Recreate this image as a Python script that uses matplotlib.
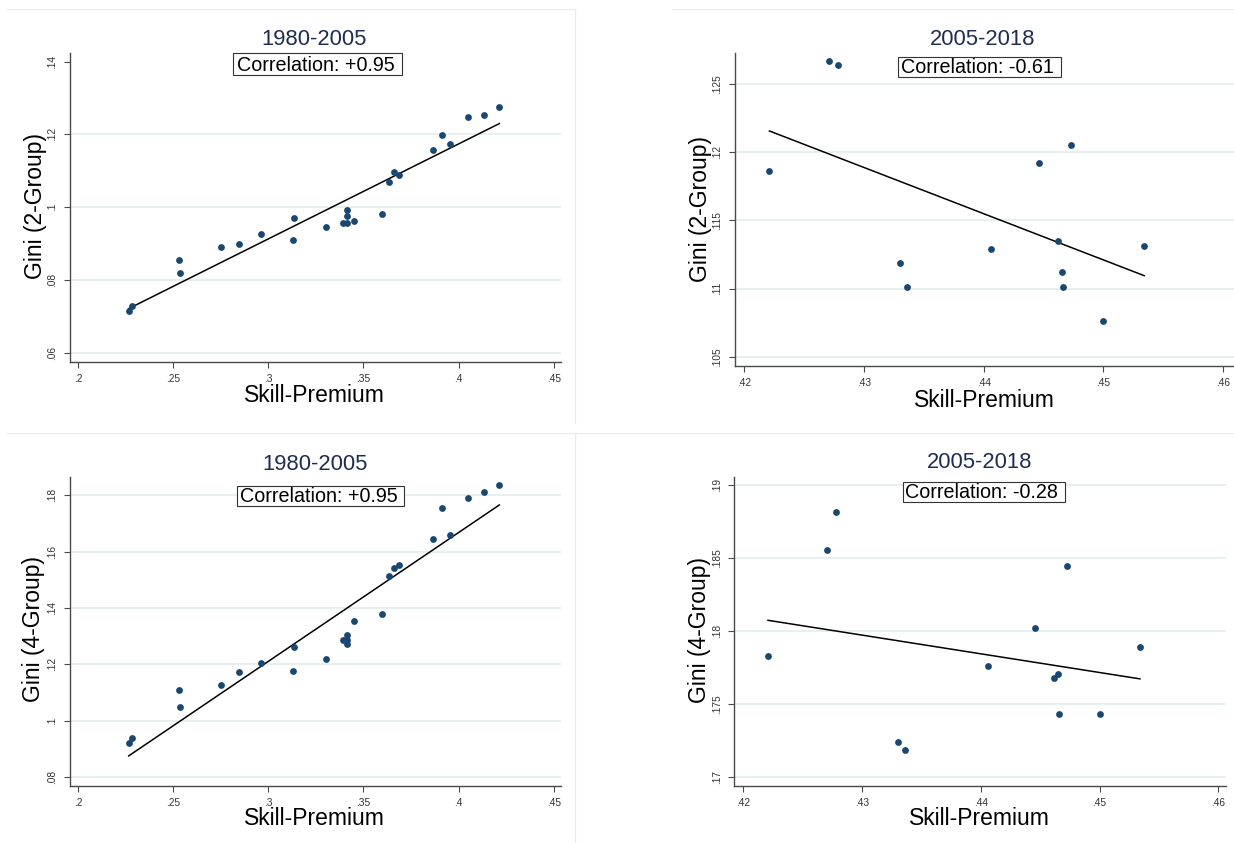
import numpy as np
import matplotlib
matplotlib.use("Agg")
import matplotlib.pyplot as plt
from matplotlib.patches import Rectangle
from matplotlib.lines import Line2D

plt.rcParams['font.family'] = ['Liberation Sans', 'DejaVu Sans']

# skill premium, 1980-2005 and 2005-2018
sp_early = [.2267, .2282, .2529, .2539, .2751, .2844, .2963, .3134, .3132, .3304,
            .3391, .3416, .3412, .3416, .3451, .3599, .3632, .3661, .3687, .3868,
            .3912, .3957, .4047, .4132, .4214]
sp_late = [.4221, .4271, .4278, .4330, .4336, .4406, .4446, .4473, .4462, .4465,
           .4466, .4500, .4534]

# gini, 2-group and 4-group
gini2_early = [.0716, .0730, .0856, .0819, .0891, .0900, .0927, .0971, .0911, .0947,
               .0957, .0993, .0975, .0957, .0963, .0981, .1068, .1096, .1088, .1156,
               .1199, .1175, .1247, .1252, .1276]
gini4_early = [.0923, .0939, .1110, .1048, .1126, .1174, .1207, .1261, .1178, .1221,
               .1288, .1306, .1286, .1273, .1355, .1379, .1513, .1541, .1553, .1645,
               .1754, .1658, .1789, .1811, .1837]
gini2_late = [.1186, .1267, .1264, .1119, .1101, .1129, .1192, .1205, .1135, .1112,
              .1101, .1076, .1131]
gini4_late = [.1783, .1856, .1882, .1724, .1719, .1776, .1802, .1845, .1768, .1771,
              .1743, .1743, .1789]

titles = ['1980-2005', '2005-2018', '1980-2005', '2005-2018']
corr_labels = ['Correlation: +0.95', 'Correlation: -0.61',
               'Correlation: +0.95', 'Correlation: -0.28']
ylabels = ['Gini (2-Group)', 'Gini (2-Group)', 'Gini (4-Group)', 'Gini (4-Group)']
xticks_early = [.2, .25, .3, .35, .4, .45]
xticks_late = [.42, .43, .44, .45, .46]
yticks = [[.06, .08, .1, .12, .14], [.105, .11, .115, .12, .125],
          [.08, .1, .12, .14, .16, .18], [.17, .175, .18, .185, .19]]

W, H = 1234, 843
fig = plt.figure(figsize=(W / 100, H / 100), dpi=100)
fig.patch.set_facecolor('white')


def fx(px):
    return px / W


def fy(py):
    return 1 - py / H


def label(v):
    return f'{v:g}'.lstrip('0')


navy = '#1a476f'
title_col = '#1e2d50'
axis_col = '#4a4a4a'

# layout in pixels: axes rect, limits, title/box/label positions
panels = [
    dict(rect=(69.5, 52.5, 561, 362.3), xlim=(.1956, .4538), ylim=(.0574, .1425),
         title=(314, 45), box=(233.3, 52.7, 401.7, 75), xl=(314.8, 401.7), yl=(35.5, 206),
         skipgrid=[.14]),
    dict(rect=(734.7, 52.5, 1234, 366), xlim=(.4192, .4609), ylim=(.10432, .12732),
         title=(982.8, 45), box=(898.3, 56.7, 1061.2, 77.3), xl=(984, 406.7), yl=(700.6, 209),
         skipgrid=[]),
    dict(rect=(69.5, 476.7, 561, 786), xlim=(.1956, .4538), ylim=(.0769, .1866),
         title=(314.8, 470), box=(237.4, 486, 403.7, 506), xl=(314.8, 825), yl=(34, 629),
         skipgrid=[]),
    dict(rect=(734, 476.7, 1226, 786), xlim=(.41924, .46064), ylim=(.1694, .19059),
         title=(979.8, 468.3), box=(903, 481.7, 1064.7, 502.3), xl=(979, 825), yl=(699.6, 630),
         skipgrid=[]),
]
xs_all = [sp_early, sp_late, sp_early, sp_late]
ys_all = [gini2_early, gini2_late, gini4_early, gini4_late]
xticks_all = [xticks_early, xticks_late, xticks_early, xticks_late]

# faint borders of the pasted graph images
border = '#ebebeb'
for (x0, y0, x1, y1) in [(7, 9.3, 575, 9.3), (672, 9.3, 1234, 9.3), (7, 433, 1234, 433),
                         (575, 9.3, 575, 423), (575, 433, 575, 843)]:
    fig.add_artist(Line2D([fx(x0), fx(x1)], [fy(y0), fy(y1)], color=border, lw=1))

for i, p in enumerate(panels):
    l, t, r, b = p['rect']
    ax = fig.add_axes([fx(l), fy(b), fx(r) - fx(l), fy(t) - fy(b)])
    x = np.array(xs_all[i])
    y = np.array(ys_all[i])

    ax.scatter(x, y, s=24, color=navy, linewidths=0, zorder=3, clip_on=False)
    slope, icpt = np.polyfit(x, y, 1)
    xfit = np.array([x.min(), x.max()])
    ax.plot(xfit, slope * xfit + icpt, color='black', lw=1.1, zorder=2)

    ax.set_xlim(p['xlim'])
    ax.set_ylim(p['ylim'])
    ax.set_xticks(xticks_all[i])
    ax.set_xticklabels([label(v) for v in xticks_all[i]])
    ax.set_yticks(yticks[i])
    ax.set_yticklabels([label(v) for v in yticks[i]], rotation=90, va='center')

    for s in ['top', 'right']:
        ax.spines[s].set_visible(False)
    for s in ['left', 'bottom']:
        ax.spines[s].set_color(axis_col)
        ax.spines[s].set_linewidth(1.0)
    ax.tick_params(length=4.3, width=0.8, color=axis_col, labelsize=7.3,
                   labelcolor='#333333')
    ax.tick_params(axis='x', pad=4.0)
    ax.tick_params(axis='y', pad=4.6)

    ax.grid(axis='y', color='#e4ecef', lw=1.2, zorder=0)
    for gl, v in zip(ax.get_ygridlines(), yticks[i]):
        if v in p['skipgrid']:
            gl.set_visible(False)
    ax.set_axisbelow(True)

    # title
    tx, ty = p['title']
    fig.text(fx(tx), fy(ty), titles[i], ha='center', va='baseline',
             fontsize=15.8, color=title_col)

    # correlation box
    bx0, by0, bx1, by1 = p['box']
    fig.add_artist(Rectangle((fx(bx0), fy(by1)), fx(bx1) - fx(bx0), fy(by0) - fy(by1),
                             transform=fig.transFigure, facecolor='white',
                             edgecolor='#333333', lw=0.8))
    fig.text(fx((bx0 + bx1) / 2 - 2), fy(by1 - 4.4), corr_labels[i], ha='center',
             va='baseline', fontsize=14.2, color='black')

    # axis titles
    lx, ly = p['xl']
    fig.text(fx(lx), fy(ly), 'Skill-Premium', ha='center', va='baseline',
             fontsize=16.5, color='black')
    yx, yy = p['yl']
    fig.text(fx(yx), fy(yy), ylabels[i], ha='center', va='center', rotation=90,
             fontsize=16.5, color='black')

fig.savefig('out.png', dpi=100, facecolor='white')
